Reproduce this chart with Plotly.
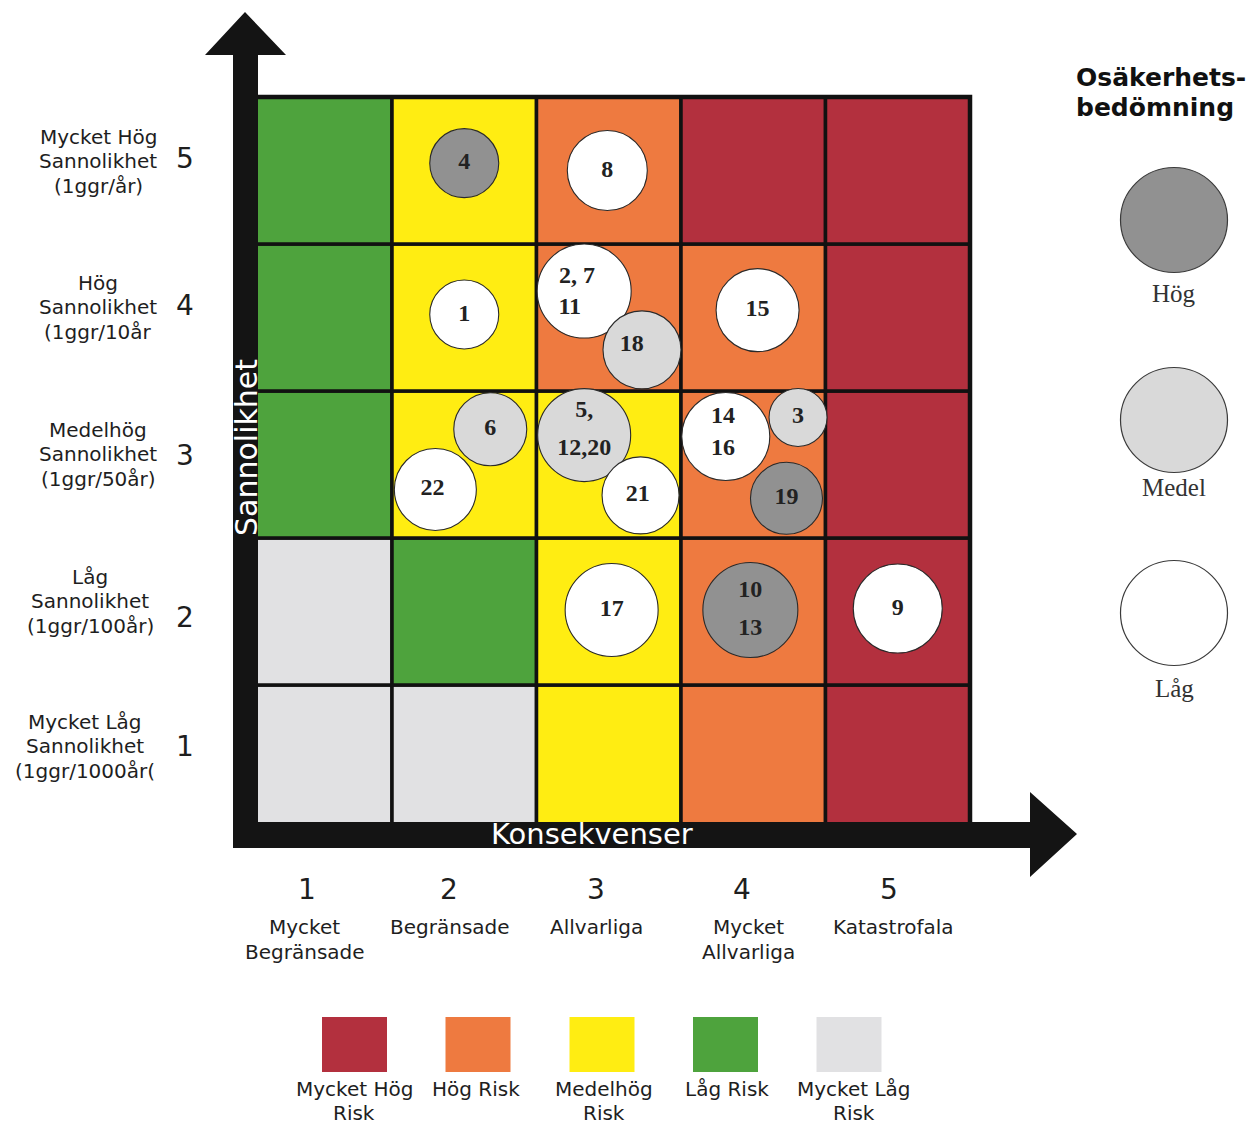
import plotly.graph_objects as go

# ---------------------------------------------------------------- data
consequence_levels = [1, 2, 3, 4, 5]
consequence_names = [["Mycket", "Begränsade"], ["Begränsade"], ["Allvarliga"],
                     ["Mycket", "Allvarliga"], ["Katastrofala"]]

likelihood_levels = [1, 2, 3, 4, 5]
likelihood_names = [
    ["Mycket Låg", "Sannolikhet", "(1ggr/1000år("],
    ["Låg", "Sannolikhet", "(1ggr/100år)"],
    ["Medelhög", "Sannolikhet", "(1ggr/50år)"],
    ["Hög", "Sannolikhet", "(1ggr/10år"],
    ["Mycket Hög", "Sannolikhet", "(1ggr/år)"],
]

risk_classes = [["Mycket Hög", "Risk"], ["Hög Risk"], ["Medelhög", "Risk"],
                ["Låg Risk"], ["Mycket Låg", "Risk"]]

# risk class index per cell: rows = likelihood 1..5, columns = consequence 1..5
risk_matrix = [
    [4, 4, 2, 1, 0],
    [4, 3, 2, 1, 0],
    [3, 2, 2, 1, 0],
    [3, 2, 1, 1, 0],
    [3, 2, 1, 0, 0],
]

uncertainty_levels = ["Hög", "Medel", "Låg"]

scenario_ids = ["4", "8", "1", "2, 7|11", "18", "15", "6", "22", "5,|12,20",
                "21", "14|16", "3", "19", "17", "10|13", "9"]
scenario_consequence = [2, 3, 2, 3, 3, 4, 2, 2, 3, 3, 4, 4, 4, 3, 4, 5]
scenario_likelihood = [5, 5, 4, 4, 4, 4, 3, 3, 3, 3, 3, 3, 3, 2, 2, 2]
scenario_uncertainty = ["Hög", "Låg", "Låg", "Låg", "Medel", "Låg", "Medel", "Låg",
                        "Medel", "Låg", "Låg", "Medel", "Hög", "Låg", "Hög", "Låg"]

# ---------------------------------------------------------------- styling
risk_colors = ["#B3303E", "#EE7A40", "#FFED12", "#4EA33D", "#E1E1E3"]
uncertainty_colors = {"Hög": "#919191", "Medel": "#D9D9D9", "Låg": "#FFFFFF"}

# placement of bubbles inside their cell (cell units) and diameter (px)
bubble_offset = [(0.00, 0.05), (-0.01, 0.00), (0.00, 0.02), (-0.17, 0.18),
                 (0.23, -0.22), (0.03, 0.05), (0.18, 0.24), (-0.20, -0.17),
                 (-0.17, 0.20), (0.22, -0.21), (-0.19, 0.19), (0.31, 0.32),
                 (0.23, -0.23), (0.02, 0.01), (-0.02, 0.01), (0.00, 0.02)]
bubble_size = [69, 80, 69, 94, 78, 83, 73, 82, 93, 77, 88, 58, 72, 93, 95, 89]
# label line offsets relative to bubble centre (cell units)
label_offset = {
    "2, 7|11": [(-0.05, 0.095), (-0.10, -0.115)],
    "18": [(-0.07, 0.03)],
    "22": [(-0.02, 0.0)],
    "5,|12,20": [(0.0, 0.163), (0.0, -0.095)],
    "21": [(-0.02, 0.0)],
    "14|16": [(-0.02, 0.136), (-0.02, -0.082)],
    "10|13": [(0.0, 0.13), (0.0, -0.13)],
}

W, H = 1258, 1124
CELL_W, CELL_H = 144.5, 147.0
LEFT_PX, BOTTOM_PX = 247.5, 832.0
x_range = [0.5 - LEFT_PX / CELL_W, 0.5 + (W - LEFT_PX) / CELL_W]
y_range = [0.5 - (H - BOTTOM_PX) / CELL_H, 0.5 + BOTTOM_PX / CELL_H]

SANS = "DejaVu Sans"
SERIF = "Liberation Serif"
INK = "#1E1E1E"


def px_x(p):
    return p / W


def px_y(p):
    return 1 - p / H


fig = go.Figure()
shapes = []
annotations = []

# ---------------------------------------------------------------- matrix cells
for li, lik in enumerate(likelihood_levels):
    for ci, con in enumerate(consequence_levels):
        shapes.append(dict(
            type="rect", xref="x", yref="y", layer="below",
            x0=con - 0.5, x1=con + 0.5, y0=lik - 0.5, y1=lik + 0.5,
            fillcolor=risk_colors[risk_matrix[li][ci]],
            line=dict(color="#111111", width=3.5),
        ))
shapes.append(dict(type="rect", xref="x", yref="y", layer="below",
                   x0=0.5, x1=5.5, y0=0.5, y1=5.5,
                   line=dict(color="#111111", width=4.5)))

# ---------------------------------------------------------------- bubbles
bx, by, bcol, tx, ty, tt = [], [], [], [], [], []
for i, sid in enumerate(scenario_ids):
    cx = scenario_consequence[i] + bubble_offset[i][0]
    cy = scenario_likelihood[i] + bubble_offset[i][1]
    bx.append(cx)
    by.append(cy)
    bcol.append(uncertainty_colors[scenario_uncertainty[i]])
    lines = sid.split("|")
    offs = label_offset.get(sid, [(0.0, 0.0)] * len(lines))
    for line, (ox, oy) in zip(lines, offs):
        tx.append(cx + ox)
        ty.append(cy + oy)
        tt.append("<b>" + line + "</b>")

fig.add_trace(go.Scatter(
    x=bx, y=by, mode="markers", hoverinfo="skip", showlegend=False,
    marker=dict(size=bubble_size, color=bcol, opacity=1,
                line=dict(color="#2A2A2A", width=1.1)),
))
fig.add_trace(go.Scatter(
    x=tx, y=ty, mode="text", text=tt, textposition="middle center",
    hoverinfo="skip", showlegend=False,
    textfont=dict(family=SERIF, size=24, color="#222222"),
))

# ---------------------------------------------------------------- axis arrows
BAR = "#141414"
shapes.append(dict(type="path", xref="paper", yref="paper", layer="above",
                   path=(f"M {px_x(233)},{px_y(848)} L {px_x(233)},{px_y(55)} "
                         f"L {px_x(205)},{px_y(55)} L {px_x(245)},{px_y(12)} "
                         f"L {px_x(286)},{px_y(55)} L {px_x(258)},{px_y(55)} "
                         f"L {px_x(258)},{px_y(848)} Z"),
                   fillcolor=BAR, line=dict(width=0)))
shapes.append(dict(type="path", xref="paper", yref="paper", layer="above",
                   path=(f"M {px_x(233)},{px_y(822)} L {px_x(1030)},{px_y(822)} "
                         f"L {px_x(1030)},{px_y(792)} L {px_x(1077)},{px_y(834)} "
                         f"L {px_x(1030)},{px_y(877)} L {px_x(1030)},{px_y(848)} "
                         f"L {px_x(233)},{px_y(848)} Z"),
                   fillcolor=BAR, line=dict(width=0)))

annotations.append(dict(text="Sannolikhet", xref="paper", yref="paper",
                        x=px_x(246), y=px_y(448), textangle=-90, showarrow=False,
                        xanchor="center", yanchor="middle",
                        font=dict(family=SANS, size=30, color="white")))
annotations.append(dict(text="Konsekvenser", xref="paper", yref="paper",
                        x=px_x(592), y=px_y(834), showarrow=False,
                        xanchor="center", yanchor="middle",
                        font=dict(family=SANS, size=29, color="white")))

# ---------------------------------------------------------------- likelihood labels
name_x = [85, 90, 98, 98, 98]
name_shift = [12.5, 10.5, 10.5, 10.5, 9.5]
num_shift = [12.5, -5.5, 9.5, 12.5, 12.5]
for li, lik in enumerate(likelihood_levels):
    for k, line in enumerate(likelihood_names[li]):
        annotations.append(dict(text=line, xref="paper", yref="y",
                                x=px_x(name_x[li]), y=lik,
                                yshift=name_shift[li] - (k - 1) * 24.5,
                                showarrow=False, xanchor="center", yanchor="middle",
                                font=dict(family=SANS, size=20, color=INK)))
    annotations.append(dict(text=str(lik), xref="paper", yref="y",
                            x=px_x(185), y=lik, yshift=num_shift[li],
                            showarrow=False, xanchor="center", yanchor="middle",
                            font=dict(family=SANS, size=28, color=INK)))

# ---------------------------------------------------------------- consequence labels
num_xshift = [-13, -15, -13, -11, -9]
name_xshift = [-15, -14, -12, -5, -4]
for ci, con in enumerate(consequence_levels):
    annotations.append(dict(text=str(con), xref="x", yref="paper",
                            x=con, xshift=num_xshift[ci], y=px_y(890),
                            showarrow=False, xanchor="center", yanchor="middle",
                            font=dict(family=SANS, size=28, color=INK)))
    for k, line in enumerate(consequence_names[ci]):
        annotations.append(dict(text=line, xref="x", yref="paper",
                                x=con, xshift=name_xshift[ci], y=px_y(927 + 25 * k),
                                showarrow=False, xanchor="center", yanchor="middle",
                                font=dict(family=SANS, size=20, color=INK)))

# ---------------------------------------------------------------- risk class legend
swatch_cx = [354.5, 478, 602, 725.5, 849]
label_cx = [354, 476, 604, 727, 854]
for i, cls in enumerate(risk_classes):
    shapes.append(dict(type="rect", xref="paper", yref="paper", layer="above",
                       x0=px_x(swatch_cx[i] - 32.5), x1=px_x(swatch_cx[i] + 32.5),
                       y0=px_y(1072), y1=px_y(1017),
                       fillcolor=risk_colors[i], line=dict(width=0)))
    for k, line in enumerate(cls):
        annotations.append(dict(text=line, xref="paper", yref="paper",
                                x=px_x(label_cx[i]), y=px_y(1089 + 24 * k),
                                showarrow=False, xanchor="center", yanchor="middle",
                                font=dict(family=SANS, size=20, color=INK)))

# ---------------------------------------------------------------- uncertainty legend
for k, line in enumerate(["Osäkerhets-", "bedömning"]):
    annotations.append(dict(text="<b>" + line + "</b>", xref="paper", yref="paper",
                            x=px_x(1074), y=px_y(77 + 30 * k), showarrow=False,
                            xanchor="left", yanchor="middle",
                            font=dict(family=SANS, size=25, color="#111111")))
legend_cy = [220, 420, 613]
legend_label_y = [293, 487, 688]
for i, lvl in enumerate(uncertainty_levels):
    shapes.append(dict(type="circle", xref="paper", yref="paper", layer="above",
                       x0=px_x(1174 - 53.5), x1=px_x(1174 + 53.5),
                       y0=px_y(legend_cy[i] + 52.5), y1=px_y(legend_cy[i] - 52.5),
                       fillcolor=uncertainty_colors[lvl],
                       line=dict(color="#3A3A3A", width=1.2)))
    annotations.append(dict(text=lvl, xref="paper", yref="paper",
                            x=px_x(1174), y=px_y(legend_label_y[i]), showarrow=False,
                            xanchor="center", yanchor="middle",
                            font=dict(family=SERIF, size=25, color="#333333")))

fig.update_layout(
    width=W, height=H,
    margin=dict(l=0, r=0, t=0, b=0),
    paper_bgcolor="white", plot_bgcolor="white",
    xaxis=dict(range=x_range, visible=False, fixedrange=True),
    yaxis=dict(range=y_range, visible=False, fixedrange=True),
    shapes=shapes, annotations=annotations,
    showlegend=False,
)

fig.write_html("out.html")
